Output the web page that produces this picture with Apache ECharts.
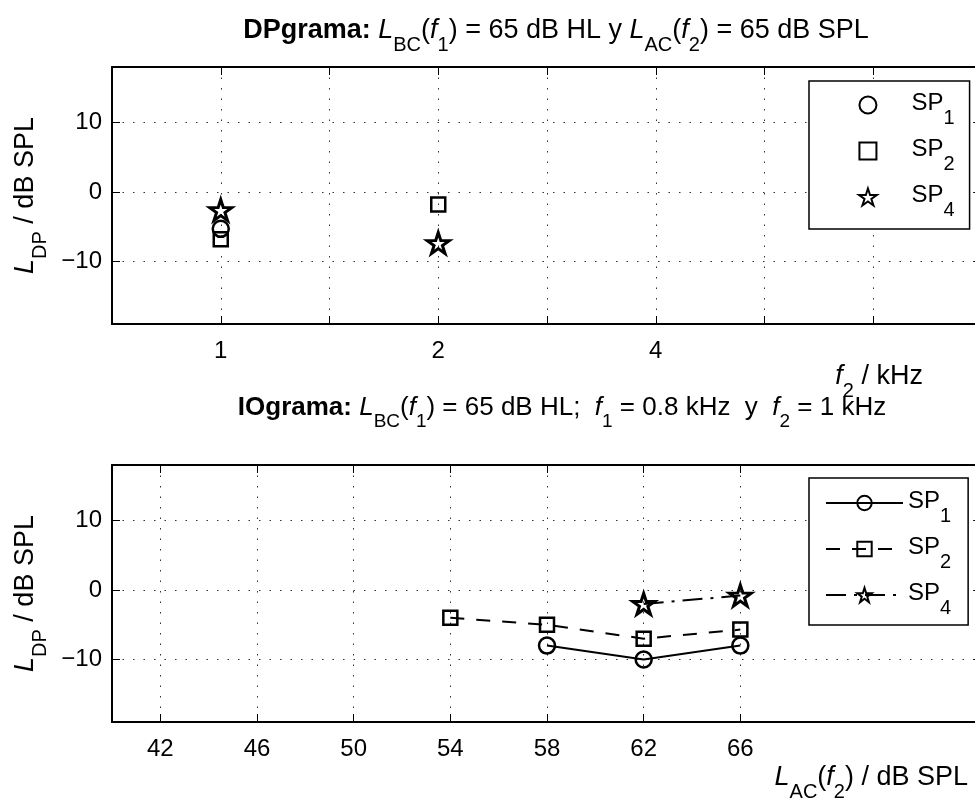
<!DOCTYPE html>
<html>
<head>
<meta charset="utf-8">
<script src="https://cdn.jsdelivr.net/npm/echarts@6/dist/echarts.min.js"></script>
<style>
    html, body { margin: 0; padding: 0; overflow: hidden; background: #fff; }
</style>
</head>
<body>
<!-- el gráfico se sale un poco por la derecha, como en la figura original -->
<div id="main" style="width: 990px;height: 798px"></div>

<script type="text/javascript">
    // DPgrama: f2 en kHz, L_DP en dB SPL
    var dpFreqs = [1, 2];
    var dpSP1 = [-5.3, null];
    var dpSP2 = [-6.8, -1.8];
    var dpSP4 = [-2.6, -7.35];
    var dpTickLabels = [1, 2, 4];

    // IOgrama: L_AC(f2) en dB SPL
    var ioLevels = [54, 58, 62, 66];
    var ioSP1 = [null, -8, -10, -8];
    var ioSP2 = [-4.0, -5.0, -7.0, -5.7];
    var ioSP4 = [null, null, -2.0, -0.8];
    var ioTicks = [42, 46, 50, 54, 58, 62, 66];

    var yTicks = [-10, 0, 10];

    var font = '"Liberation Sans", Arial, Helvetica, sans-serif';
    var fs = 24;
    var star = 'path://M50 0L61.23 34.55L97.55 34.55L68.17 55.9L79.39 90.45L50 69.1L20.61 90.45L31.83 55.9L2.45 34.55L38.77 34.55Z';
    var square = 'path://M0 0H10V10H0Z';

    // texto con subíndices: todo alineado arriba, el subíndice bajado con padding
    function makeRich(size, subSize, subPad) {
        var base = {fontSize: size, lineHeight: size + 4, fontFamily: font, color: '#000', verticalAlign: 'top'};
        function ext(o) { var r = {}; for (var k in base) r[k] = base[k]; for (var j in o) r[j] = o[j]; return r; }
        return {
            t: ext({}),
            b: ext({fontWeight: 'bold'}),
            i: ext({fontStyle: 'italic'}),
            s: ext({fontSize: subSize, lineHeight: subSize + 2, padding: [subPad, 0, 0, 0]})
        };
    }
    function textStyle(size, subSize, subPad) {
        return {fontSize: size, fontFamily: font, color: '#000', fontWeight: 'normal', rich: makeRich(size, subSize, subPad)};
    }
    var big = textStyle(27, 20, 18);
    var mid = textStyle(26, 19, 17);
    var small = textStyle(fs, 20, 17);

    var gridLine = {color: '#333', width: 1, type: [1.5, 9]};

    function pts(xs, ys, fx) {
        var out = [];
        xs.forEach(function (x, i) {
            if (ys[i] !== null) out.push([fx ? fx(x) : x, ys[i]]);
        });
        return out;
    }

    function frame(extra) {
        var a = {
            type: 'value',
            axisLine: {onZero: false, lineStyle: {color: '#000', width: 2}},
            axisTick: {inside: true, length: 8, lineStyle: {color: '#000', width: 1}},
            axisLabel: {show: false},
            splitLine: {show: false}
        };
        for (var k in extra) a[k] = extra[k];
        return a;
    }

    function yLabel(v) { return v < 0 ? '\u2212' + (-v) : String(v); }

    function yAxes(g) {
        return [
            frame({gridIndex: g, position: 'left', min: -19, max: 18,
                axisTick: {inside: true, length: 8, customValues: yTicks, lineStyle: {color: '#000', width: 1}},
                axisLabel: {customValues: yTicks, formatter: yLabel, margin: 10, fontSize: fs, fontFamily: font, color: '#000'},
                splitLine: {show: true, lineStyle: gridLine},
                name: '{i|L}{s|DP}{t| / dB SPL}', nameLocation: 'middle', nameGap: 59, nameTextStyle: big}),
            frame({gridIndex: g, position: 'right', min: -19, max: 18,
                axisTick: {inside: true, length: 8, customValues: yTicks, lineStyle: {color: '#000', width: 1}}})
        ];
    }

    function spName(n) { return '{t|SP}{s|' + n.slice(-1) + '}'; }

    var marker = {color: 'transparent', borderColor: '#000', borderWidth: 2.5, opacity: 1};
    var starMarker = {color: 'transparent', borderColor: '#000', borderWidth: 3, opacity: 1};

    var myChart = echarts.init(document.getElementById('main'));

    var option = {
        animation: false,
        backgroundColor: '#fff',
        title: [
            {text: '{b|DPgrama:}{t| }{i|L}{s|BC}{t|(}{i|f}{s|1}{t|) = 65 dB HL y }{i|L}{s|AC}{t|(}{i|f}{s|2}{t|) = 65 dB SPL}',
                left: 556, top: 17, textAlign: 'center', padding: 0, textStyle: big},
            {text: '{i|f}{s|2}{t| / kHz}', left: 923, top: 363, textAlign: 'right', padding: 0, textStyle: big},
            {text: '{b|IOgrama:}{t| }{i|L}{s|BC}{t|(}{i|f}{s|1}{t|) = 65 dB HL;  }{i|f}{s|1}{t| = 0.8 kHz  y  }{i|f}{s|2}{t| = 1 kHz}',
                left: 562, top: 395, textAlign: 'center', padding: 0, textStyle: mid},
            {text: '{i|L}{s|AC}{t|(}{i|f}{s|2}{t|) / dB SPL}', left: 968, top: 764, textAlign: 'right', padding: 0, textStyle: big}
        ],
        grid: [
            {left: 112, top: 67, width: 870, height: 257},
            {left: 112, top: 465, width: 870, height: 257}
        ],
        xAxis: [
            frame({gridIndex: 0, position: 'bottom', min: -0.5, max: 3.5, interval: 0.5,
                axisLabel: {customValues: dpTickLabels.map(Math.log2),
                    formatter: function (v) { return String(Math.round(Math.pow(2, v))); },
                    margin: 15, fontSize: fs, fontFamily: font, color: '#000'},
                splitLine: {show: true, lineStyle: gridLine}}),
            frame({gridIndex: 0, position: 'top', min: -0.5, max: 3.5, interval: 0.5}),
            frame({gridIndex: 1, position: 'bottom', min: 40, max: 76,
                axisTick: {inside: true, length: 8, customValues: ioTicks, lineStyle: {color: '#000', width: 1}},
                axisLabel: {customValues: ioTicks, margin: 15, fontSize: fs, fontFamily: font, color: '#000'},
                splitLine: {show: true, lineStyle: gridLine}}),
            frame({gridIndex: 1, position: 'top', min: 40, max: 76,
                axisTick: {inside: true, length: 8, customValues: ioTicks, lineStyle: {color: '#000', width: 1}}})
        ],
        yAxis: yAxes(0).concat(yAxes(1)),
        legend: [
            {data: ['DP SP1', 'DP SP2', 'DP SP4'], orient: 'vertical', left: 809, top: 81,
                padding: [10, 15, 9, 49], itemWidth: 77, itemHeight: 17, itemGap: 9,
                borderColor: '#000', borderWidth: 1.5, backgroundColor: '#fff', selectedMode: false,
                formatter: spName, textStyle: small},
            {data: ['IO SP1', 'IO SP2', 'IO SP4'], orient: 'vertical', left: 809, top: 478,
                padding: [11, 17, 7, 16], itemWidth: 77, itemHeight: 18, itemGap: 9,
                borderColor: '#000', borderWidth: 1.5, backgroundColor: '#fff', selectedMode: false,
                formatter: spName, textStyle: small}
        ],
        series: [
            {name: 'DP SP1', type: 'scatter', xAxisIndex: 0, yAxisIndex: 0, symbol: 'circle', symbolSize: 16,
                itemStyle: marker, data: pts(dpFreqs, dpSP1, Math.log2)},
            {name: 'DP SP2', type: 'scatter', xAxisIndex: 0, yAxisIndex: 0, symbol: square, symbolSize: 14,
                itemStyle: marker, data: pts(dpFreqs, dpSP2, Math.log2)},
            {name: 'DP SP4', type: 'scatter', xAxisIndex: 0, yAxisIndex: 0, symbol: star, symbolSize: [22, 21],
                itemStyle: starMarker, data: pts(dpFreqs, dpSP4, Math.log2)},
            {name: 'IO SP1', type: 'line', xAxisIndex: 2, yAxisIndex: 2, symbol: 'circle', symbolSize: 16,
                itemStyle: marker, lineStyle: {color: '#000', width: 2, type: 'solid'},
                data: pts(ioLevels, ioSP1)},
            {name: 'IO SP2', type: 'line', xAxisIndex: 2, yAxisIndex: 2, symbol: 'rect', symbolSize: 14,
                itemStyle: marker, lineStyle: {color: '#000', width: 2, type: [14, 12]},
                data: pts(ioLevels, ioSP2)},
            {name: 'IO SP4', type: 'line', xAxisIndex: 2, yAxisIndex: 2, symbol: star, symbolSize: [22, 21],
                itemStyle: starMarker, lineStyle: {color: '#000', width: 2, type: [20, 8, 3, 8]},
                data: pts(ioLevels, ioSP4)}
        ]
    };

    myChart.setOption(option);
</script>
</body>
</html>
